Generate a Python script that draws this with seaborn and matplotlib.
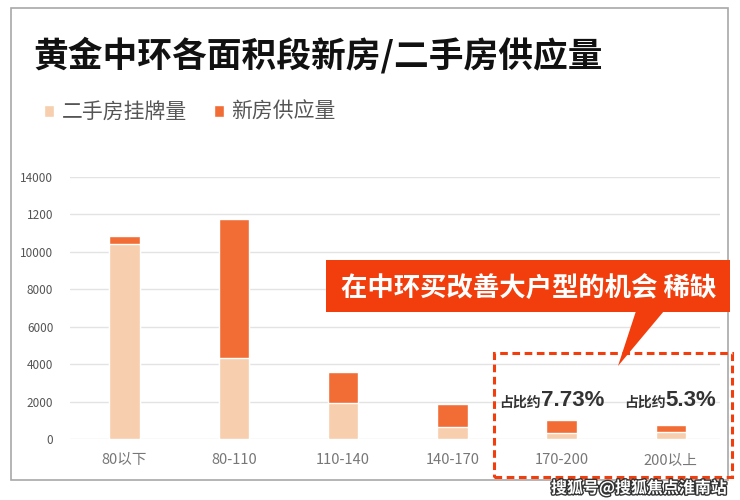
import matplotlib
matplotlib.use("Agg")
import matplotlib.pyplot as plt
import matplotlib.patches as mpatches
import matplotlib.patheffects as pe
import pandas as pd
import seaborn as sns

# data
categories = ["80以下", "80-110", "110-140", "140-170", "170-200", "200以上"]
second_hand = [10430, 4310, 1900, 620, 320, 370]       # 二手房挂牌量
total_supply = [10860, 11750, 3560, 1870, 1030, 760]   # bar top (二手 + 新房)
y_ticks = [0, 2000, 4000, 6000, 8000, 10000, 12000, 14000]
y_tick_labels = ["0", "2000", "4000", "6000", "8000", "10000", "1200", "14000"]
share_labels = ["7.73%", "5.3%"]

PEACH = "#F7CFAE"
ORANGE = "#F26D36"
RED = "#F23D0C"
W, H = 740, 500


def fx(px):
    return px / W


def fy(py):
    return 1 - py / H


sns.set_theme(style="white")
plt.rcParams["font.family"] = ["Noto Sans CJK SC", "DejaVu Sans"]

df = pd.DataFrame({"area": categories, "second": second_hand, "total": total_supply})

fig = plt.figure(figsize=(7.4, 5), dpi=100)
ax = fig.add_axes([fx(70), fy(439), fx(720) - fx(70), fy(177) - fy(439)])

sns.barplot(data=df, x="area", y="total", color=ORANGE, width=0.28,
            saturation=1, label="新房供应量", ax=ax, zorder=3)
sns.barplot(data=df, x="area", y="second", color=PEACH, width=0.28,
            saturation=1, label="二手房挂牌量", ax=ax, zorder=3)

ax.set_ylim(0, 14000)
ax.set_xlim(-0.5, 5.45)
ax.set_yticks(y_ticks)
ax.set_yticklabels(y_tick_labels, fontsize=8.5, color="#555555")
ax.tick_params(axis="x", labelsize=10.5, labelcolor="#777777", pad=10, length=0)
ax.tick_params(axis="y", length=0, pad=12)
ax.set_xlabel("")
ax.set_ylabel("")
ax.grid(axis="y", color="#E3E3E3", linewidth=1, zorder=0)
for s in ax.spines.values():
    s.set_visible(False)
if ax.get_legend():
    ax.get_legend().remove()

# 占比 annotations
for xi, off, lab in zip([4, 5], [-0.19, -0.05], share_labels):
    ax.text(xi + off, 1750, "占比约", ha="right", va="baseline",
            fontsize=10, fontweight="bold", color="#333333")
    ax.text(xi + off, 1750, lab, ha="left", va="baseline",
            fontsize=16, fontweight="bold", color="#333333",
            family=["Liberation Sans", "DejaVu Sans"])

# title and legend
fig.text(fx(33), fy(55), "黄金中环各面积段新房/二手房供应量", fontsize=25,
         fontweight="bold", color="#111111", va="center")
handles, labels = ax.get_legend_handles_labels()
order = [1, 0]
fig.legend([handles[i] for i in order], [labels[i] for i in order],
           loc="center left", bbox_to_anchor=(fx(25), fy(112)), ncol=2,
           frameon=False, fontsize=15, labelcolor="#555555",
           prop={"size": 15, "weight": "medium"},
           handlelength=0.5, handleheight=0.5, handletextpad=0.35,
           columnspacing=1.3)

# outer frame
fig.patches.append(mpatches.Rectangle((fx(11), fy(480)), fx(728) - fx(11),
                                      fy(8) - fy(480), transform=fig.transFigure,
                                      fill=False, edgecolor="#A8A8A8", linewidth=1.2))

# dashed highlight box
fig.patches.append(mpatches.Rectangle((fx(494), fy(477)), fx(732) - fx(494),
                                      fy(353) - fy(477), transform=fig.transFigure,
                                      fill=False, edgecolor=RED, linewidth=2.2,
                                      linestyle=(0, (2.5, 1.5)), zorder=5))

# callout box with pointer
fig.patches.append(mpatches.Rectangle((fx(326), fy(312)), fx(730) - fx(326),
                                      fy(260) - fy(312), transform=fig.transFigure,
                                      facecolor=RED, edgecolor="none", zorder=5))
fig.patches.append(mpatches.Polygon([(fx(636), fy(311)), (fx(664), fy(311)),
                                     (fx(618), fy(366))], closed=True,
                                    transform=fig.transFigure, facecolor=RED,
                                    edgecolor="none", zorder=5))
fig.text(fx(529), fy(288), "在中环买改善大户型的机会 稀缺", ha="center", va="center",
         fontsize=19, fontweight="bold", color="white", zorder=6)

# watermark
fig.text(fx(727), fy(488), "搜狐号@搜狐焦点淮南站", ha="right", va="center",
         fontsize=11.5, fontweight="bold", color="white", zorder=7,
         path_effects=[pe.withStroke(linewidth=2, foreground="#333333")])

fig.savefig("out.png", dpi=100)
